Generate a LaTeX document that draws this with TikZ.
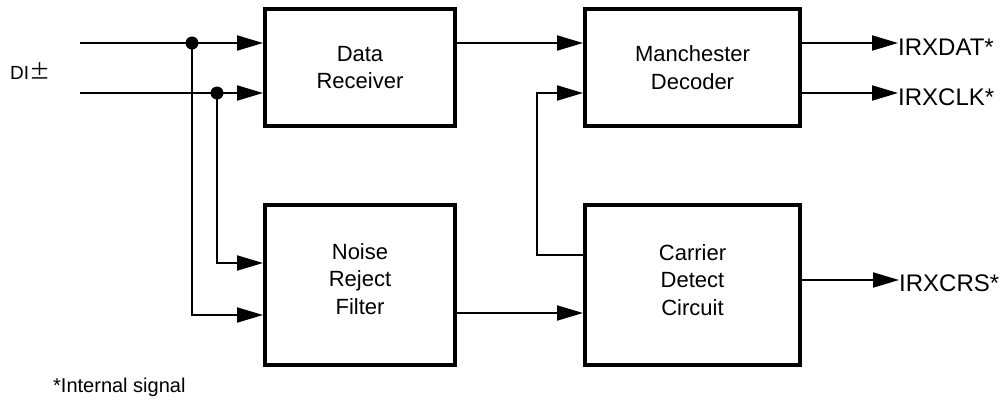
\documentclass[tikz,border=0pt]{standalone}
\usepackage{fontspec}
\setmainfont{Liberation Sans}
\newfontfamily\cjkf{Noto Sans CJK JP}
\usetikzlibrary{arrows.meta}
\begin{document}
\begin{tikzpicture}[x=1pt,y=-1pt,
  blk/.style={draw, line width=4pt, inner sep=0pt, align=center,
    font=\fontsize{22}{27.5}\selectfont},
  wire/.style={line width=2pt},
  arr/.style={wire, -{Triangle[length=26pt,width=15pt]}},
  dot/.style={circle, fill, inner sep=0pt, minimum size=13pt},
  lbl/.style={inner sep=0pt, font=\fontsize{24}{28}\selectfont}]
\useasboundingbox (0,0) rectangle (1004,400);

% blocks
\node[blk, minimum width=190pt, minimum height=117pt] (dr) at (360,67.5) {Data\\Receiver};
\node[blk, minimum width=215pt, minimum height=117pt] (md) at (692.5,67.5) {Manchester\\Decoder};
\node[blk, minimum width=190pt, minimum height=160pt] (nf) at (360,285) {};
\node[blk, minimum width=215pt, minimum height=160pt] (cd) at (692.5,285) {};
\node[blk, draw=none] (nft) at (360,279) {Noise\\Reject\\Filter};
\node[blk, draw=none] (cdt) at (692.5,280) {Carrier\\Detect\\Circuit};

% inputs
\node[font=\fontsize{19}{20}\selectfont, anchor=base west, inner sep=0pt] (di) at (10,79) {DI{\cjkf\fontsize{21}{22}\selectfont ±}};
\coordinate (in1) at (80,43);
\coordinate (in2) at (80,93);
\node[dot] (j1) at (192,43) {};
\node[dot] (j2) at (217,93) {};

\draw[arr] (in1) -- (dr.west |- in1);
\draw[arr] (in2) -- (dr.west |- in2);
\draw[arr] (j2.center) |- (nf.west |- 0,263);
\draw[arr] (j1.center) |- (nf.west |- 0,315);

% internal
\draw[arr] (dr.east |- 0,43) -- (md.west |- 0,43);
\draw[arr] (nf.east |- 0,313) -- (cd.west |- 0,313);
\draw[arr] (cd.west |- 0,255) -- ++(-46,0) |- (md.west |- 0,93);

% outputs
\node[lbl, anchor=base west] (odat) at (898,55) {IRXDAT*};
\node[lbl, anchor=base west] (oclk) at (898,105) {IRXCLK*};
\node[lbl, anchor=base west] (ocrs) at (899,291) {IRXCRS*};
\draw[arr] (md.east |- 0,43) -- (odat.west |- 0,43);
\draw[arr] (md.east |- 0,93) -- (oclk.west |- 0,93);
\draw[arr] (cd.east |- 0,280) -- (ocrs.west |- 0,280);

% note
\node[font=\fontsize{20}{22}\selectfont, anchor=base west, inner sep=0pt] (note) at (53,392) {*Internal signal};
\end{tikzpicture}
\end{document}
